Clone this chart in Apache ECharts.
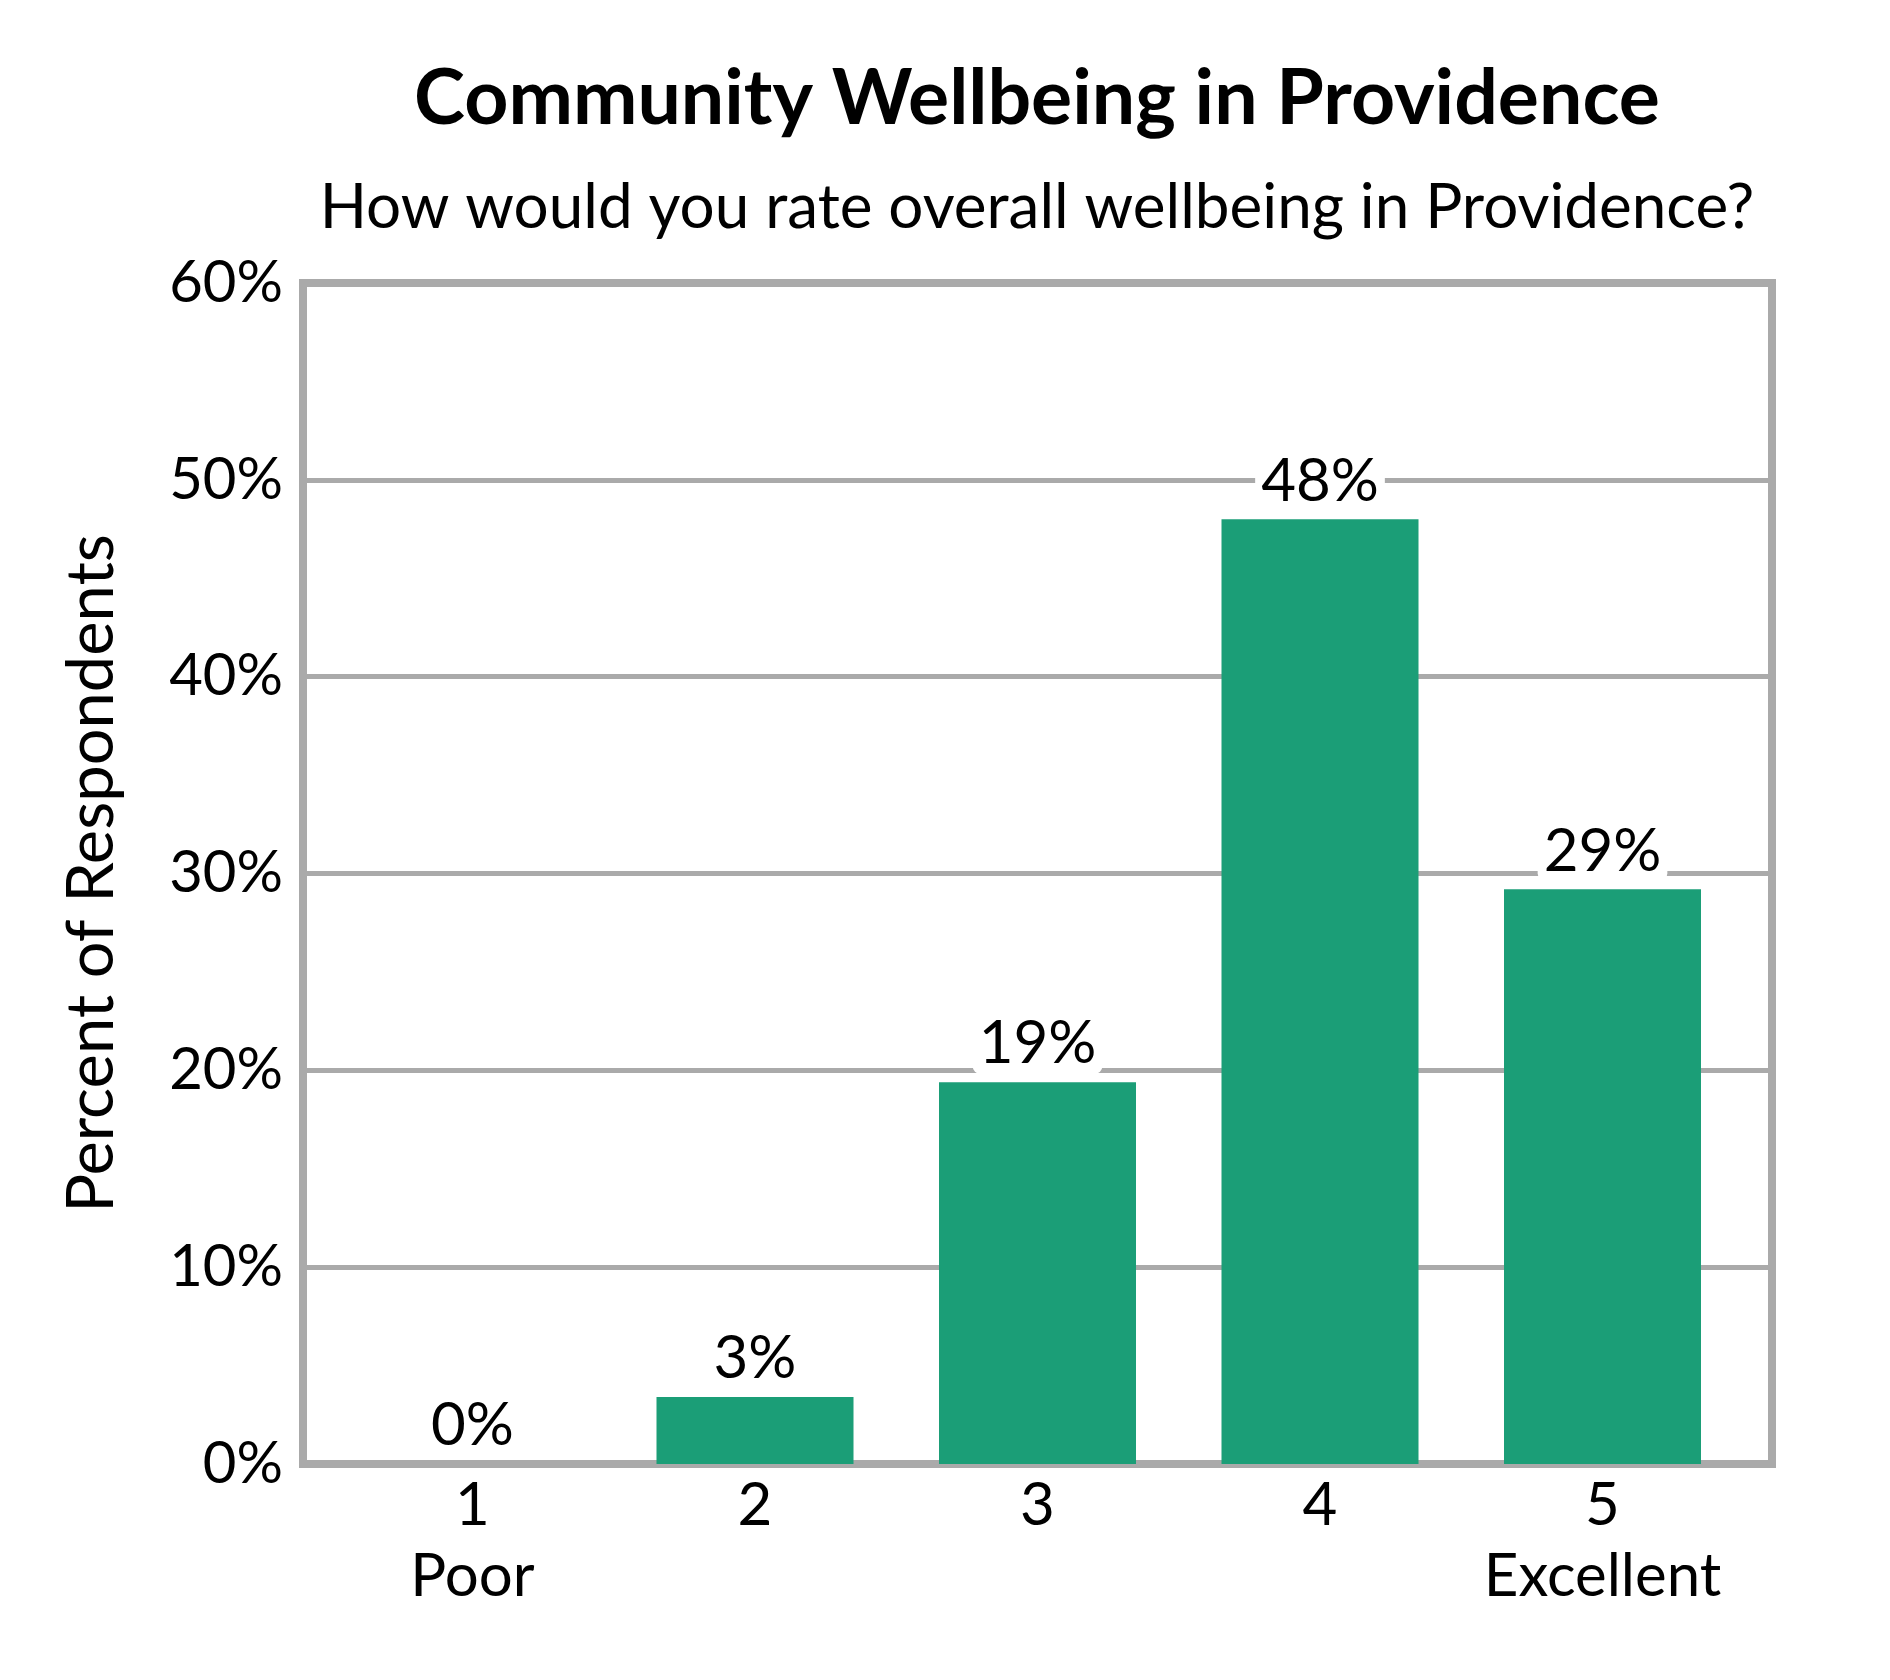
<!DOCTYPE html>
<html>
<head>
<meta charset="utf-8">
<title>Community Wellbeing in Providence</title>
<script src="https://cdn.jsdelivr.net/npm/echarts@6/dist/echarts.min.js"></script>
<style>
  html, body { margin: 0; padding: 0; background: #fff; }
  #main { width: 1890px; height: 1680px; }
</style>
</head>
<body>
<div id="main"></div>
<script>
// rating scale, 1 = poor .. 5 = excellent
var ratings = [1, 2, 3, 4, 5];
var ratingLabels = ['1\nPoor', '2', '3', '4', '5\nExcellent'];
var percents = [0, 3.4, 19.4, 48.0, 29.2];
var yTicks = [0, 10, 20, 30, 40, 50, 60];

var fontName = 'Lato';
var gridGray = '#aaaaaa';

// bars sit on a value axis so the frame can run a little wider than the categories
var barData = [];
for (var i = 0; i < ratings.length; i++) {
	barData.push([ ratings[i], percents[i] ]);
}

var option = {
	backgroundColor : '#ffffff',
	textStyle : {
		fontFamily : fontName,
		color : '#000'
	},
	title : [ {
		text : 'Community Wellbeing in Providence',
		left : 1037,
		top : 61,
		padding : 0,
		textAlign : 'center',
		textStyle : {
			fontFamily : fontName,
			fontSize : 77,
			fontWeight : 'bold',
			color : '#000'
		}
	}, {
		text : 'How would you rate overall wellbeing in Providence?',
		left : 1037,
		top : 177,
		padding : 0,
		textAlign : 'center',
		textStyle : {
			fontFamily : fontName,
			fontSize : 62,
			fontWeight : 'normal',
			color : '#000'
		}
	} ],
	grid : {
		left : 303,
		right : 118,
		top : 283,
		bottom : 216,
		show : true,
		borderColor : gridGray,
		borderWidth : 8,
		backgroundColor : 'transparent'
	},
	xAxis : {
		type : 'value',
		min : 0.4,
		max : 5.6,
		axisLine : { show : false },
		axisTick : { show : false },
		splitLine : { show : false },
		axisLabel : {
			customValues : ratings,
			margin : 6,
			fontFamily : fontName,
			fontSize : 60,
			lineHeight : 71,
			color : '#000',
			formatter : function(v) {
				var k = ratings.indexOf(Math.round(v));
				return k >= 0 ? ratingLabels[k] : '';
			}
		}
	},
	yAxis : {
		type : 'value',
		min : yTicks[0],
		max : yTicks[yTicks.length - 1],
		interval : 10,
		name : 'Percent of Respondents',
		nameLocation : 'middle',
		nameGap : 178,
		nameTextStyle : {
			fontFamily : fontName,
			fontSize : 65,
			color : '#000'
		},
		axisLine : { show : false },
		axisTick : { show : false },
		splitLine : {
			show : true,
			lineStyle : {
				color : gridGray,
				width : 5
			}
		},
		axisLabel : {
			margin : 20,
			fontFamily : fontName,
			fontSize : 58,
			color : '#000',
			formatter : '{value}%'
		}
	},
	series : [ {
		type : 'bar',
		data : barData,
		barWidth : 197,
		itemStyle : {
			color : '#1b9e77'
		},
		label : {
			show : true,
			position : 'top',
			distance : 8,
			fontFamily : fontName,
			fontSize : 60,
			color : '#000',
			backgroundColor : '#ffffff',
			padding : [ 0, 6 ],
			borderRadius : 8,
			formatter : function(p) {
				return Math.round(p.value[1]) + '%';
			}
		}
	} ]
};

var myChart = echarts.init(document.getElementById('main'));
myChart.setOption(option);
</script>
</body>
</html>
